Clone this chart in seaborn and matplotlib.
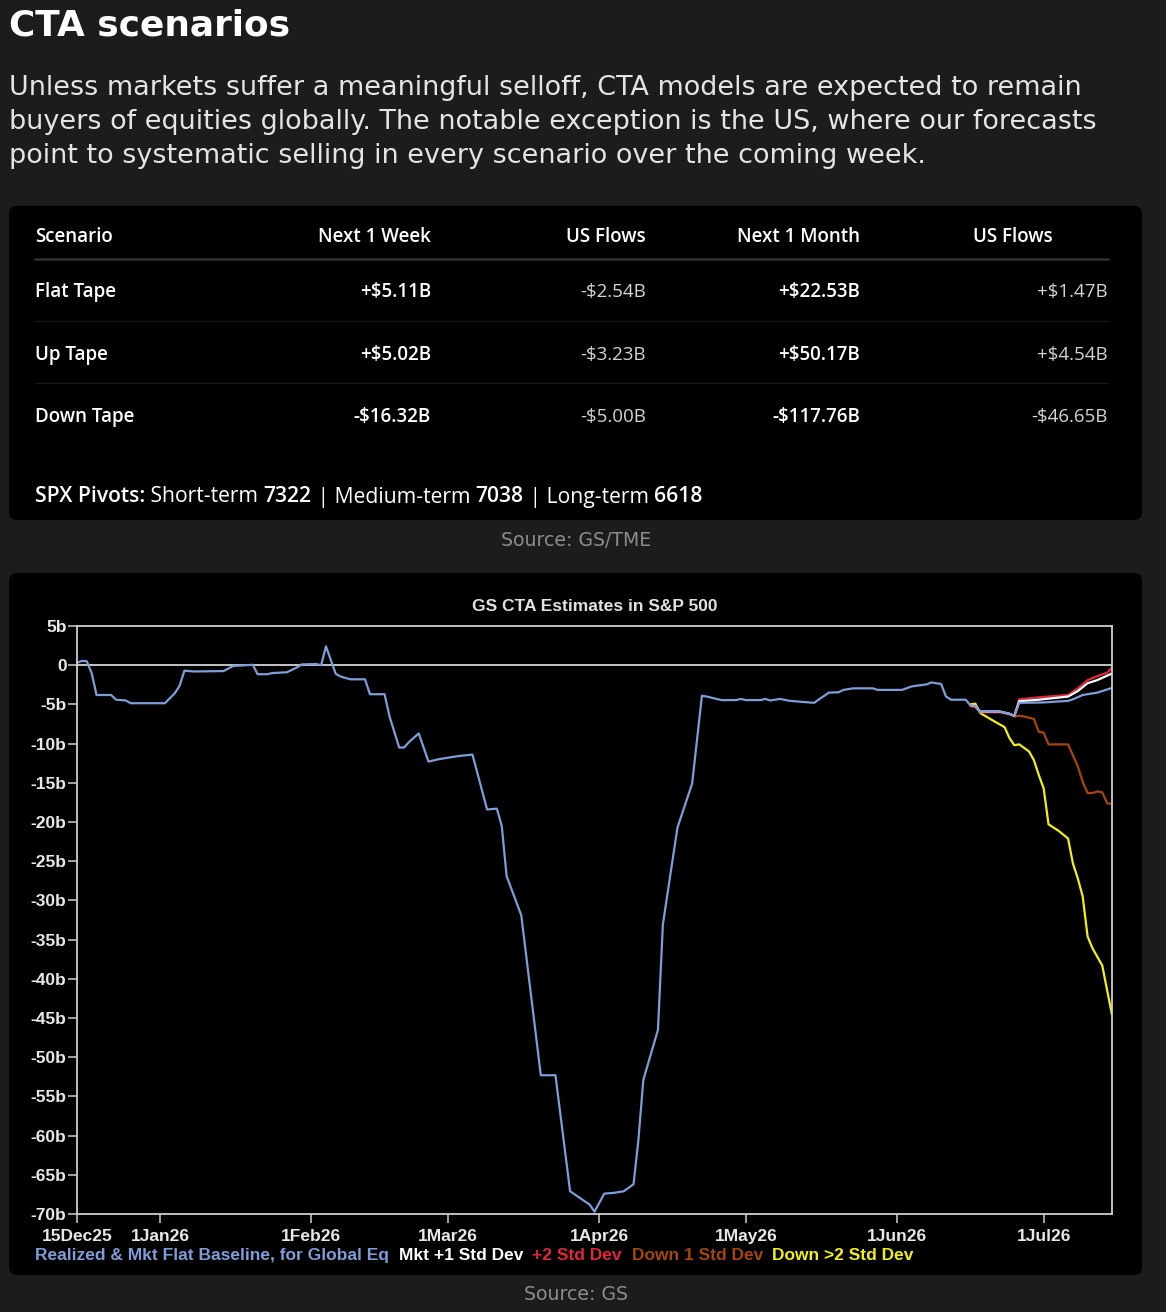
import numpy as np
import pandas as pd
import seaborn as sns
import matplotlib.pyplot as plt
from matplotlib.patches import FancyBboxPatch
from matplotlib.lines import Line2D

# table data
scenarios = ["Flat Tape", "Up Tape", "Down Tape"]
next_week = ["+$5.11B", "+$5.02B", "-$16.32B"]
us_week = ["-$2.54B", "-$3.23B", "-$5.00B"]
next_month = ["+$22.53B", "+$50.17B", "-$117.76B"]
us_month = ["+$1.47B", "+$4.54B", "-$46.65B"]
headers = ["Scenario", "Next 1 Week", "US Flows", "Next 1 Month", "US Flows"]
pivots = [("SPX Pivots:", "bold"), (" Short-term ", "normal"), ("7322", "bold"),
          (" | Medium-term ", "normal"), ("7038", "bold"),
          (" | Long-term ", "normal"), ("6618", "bold")]

# chart data (GS CTA estimates, $bn)
base_dates = ["2025-12-15", "2025-12-16", "2025-12-17", "2025-12-18", "2025-12-19", "2025-12-22",
              "2025-12-23", "2025-12-25", "2025-12-26", "2026-01-02", "2026-01-04", "2026-01-05",
              "2026-01-06", "2026-01-08", "2026-01-14", "2026-01-16", "2026-01-20", "2026-01-21",
              "2026-01-23", "2026-01-24", "2026-01-27", "2026-01-29", "2026-01-30", "2026-02-02",
              "2026-02-03", "2026-02-04", "2026-02-06", "2026-02-07", "2026-02-09", "2026-02-12",
              "2026-02-13", "2026-02-16", "2026-02-17", "2026-02-19", "2026-02-20", "2026-02-21",
              "2026-02-23", "2026-02-25", "2026-02-27", "2026-03-03", "2026-03-06", "2026-03-09",
              "2026-03-11", "2026-03-12", "2026-03-13", "2026-03-16", "2026-03-20", "2026-03-23",
              "2026-03-26", "2026-03-30", "2026-03-31", "2026-04-02", "2026-04-04", "2026-04-06",
              "2026-04-08", "2026-04-09", "2026-04-10", "2026-04-13", "2026-04-14", "2026-04-16",
              "2026-04-17", "2026-04-20", "2026-04-22", "2026-04-23", "2026-04-26", "2026-04-29",
              "2026-04-30", "2026-05-01", "2026-05-04", "2026-05-05", "2026-05-06", "2026-05-08",
              "2026-05-10", "2026-05-13", "2026-05-15", "2026-05-16", "2026-05-18", "2026-05-20",
              "2026-05-21", "2026-05-23", "2026-05-27", "2026-05-28", "2026-06-02", "2026-06-04",
              "2026-06-07", "2026-06-08", "2026-06-10", "2026-06-11", "2026-06-12", "2026-06-15",
              "2026-06-16", "2026-06-17", "2026-06-18", "2026-06-22", "2026-06-24", "2026-06-25",
              "2026-06-26", "2026-07-01", "2026-07-06", "2026-07-07", "2026-07-09", "2026-07-12",
              "2026-07-13", "2026-07-15"]
base_vals = [0.3, 0.55, 0.5, -1.0, -3.8, -3.8,
             -4.4, -4.5, -4.85, -4.85, -3.6, -2.65,
             -0.7, -0.8, -0.75, -0.1, 0.05, -1.15,
             -1.15, -1.0, -0.9, -0.3, 0.1, 0.15,
             0.0, 2.4, -1.1, -1.45, -1.8, -1.8,
             -3.7, -3.7, -6.5, -10.5, -10.5, -9.8,
             -8.7, -12.3, -12.0, -11.6, -11.4, -18.4,
             -18.3, -20.5, -26.9, -31.9, -52.3, -52.3,
             -67.1, -68.8, -69.7, -67.4, -67.3, -67.1,
             -66.2, -60.5, -52.9, -46.5, -33.1, -24.8,
             -20.7, -15.1, -3.9, -4.0, -4.45, -4.45,
             -4.3, -4.45, -4.45, -4.3, -4.5, -4.3,
             -4.55, -4.7, -4.8, -4.35, -3.5, -3.45,
             -3.15, -2.95, -2.95, -3.15, -3.15, -2.7,
             -2.45, -2.2, -2.4, -4.0, -4.4, -4.4,
             -5.1, -5.2, -5.9, -5.9, -6.2, -6.45,
             -4.8, -4.75, -4.55, -4.35, -3.8, -3.5,
             -3.3, -2.9]

up1_dates = ["2026-06-16", "2026-06-17", "2026-06-18", "2026-06-22", "2026-06-24", "2026-06-25",
             "2026-06-26", "2026-06-30", "2026-07-03", "2026-07-06", "2026-07-08", "2026-07-10",
             "2026-07-12", "2026-07-15"]
up1_vals = [-5.1, -5.2, -5.9, -5.9, -6.2, -6.45, -4.6, -4.4, -4.2, -4.0, -3.3, -2.3, -1.9, -1.05]

up2_dates = ["2026-06-16", "2026-06-17", "2026-06-18", "2026-06-22", "2026-06-24", "2026-06-25",
             "2026-06-26", "2026-06-30", "2026-07-03", "2026-07-06", "2026-07-08", "2026-07-10",
             "2026-07-12", "2026-07-14", "2026-07-15"]
up2_vals = [-5.2, -5.35, -6.0, -6.0, -6.25, -6.5, -4.35, -4.1, -3.95, -3.8, -2.95, -1.9,
            -1.4, -0.95, -0.3]

dn1_dates = ["2026-06-24", "2026-06-25", "2026-06-26", "2026-06-27", "2026-06-29", "2026-06-30",
             "2026-07-01", "2026-07-02", "2026-07-06", "2026-07-08", "2026-07-09", "2026-07-10",
             "2026-07-11", "2026-07-12", "2026-07-13", "2026-07-14", "2026-07-15"]
dn1_vals = [-6.2, -6.55, -6.45, -6.55, -6.85, -8.5, -8.6, -10.1, -10.1, -12.9, -14.9, -16.3,
            -16.3, -16.1, -16.2, -17.6, -17.7]

dn2_dates = ["2026-06-16", "2026-06-17", "2026-06-18", "2026-06-21", "2026-06-23", "2026-06-24",
             "2026-06-25", "2026-06-26", "2026-06-28", "2026-06-29", "2026-06-30", "2026-07-01",
             "2026-07-02", "2026-07-04", "2026-07-06", "2026-07-07", "2026-07-08", "2026-07-09",
             "2026-07-10", "2026-07-11", "2026-07-13", "2026-07-15"]
dn2_vals = [-5.0, -4.9, -6.1, -7.2, -7.9, -9.3, -10.2, -10.1, -11.0, -12.1, -14.0, -15.7,
            -20.3, -21.1, -22.1, -25.3, -27.2, -29.5, -34.6, -36.1, -38.3, -44.6]

series_names = ["Realized & Mkt Flat Baseline, for Global Eq", "Mkt +1 Std Dev", "+2 Std Dev",
                "Down 1 Std Dev", "Down >2 Std Dev"]
series_colors = ["#7e9dd9", "#ffffff", "#e3263b", "#a8450c", "#f2ef12"]
xtick_dates = ["2025-12-15", "2026-01-01", "2026-02-01", "2026-03-01", "2026-04-01",
               "2026-05-01", "2026-06-01", "2026-07-01"]
xtick_labels = ["15Dec25", "1Jan26", "1Feb26", "1Mar26", "1Apr26", "1May26", "1Jun26", "1Jul26"]

frames = []
for name, d, v in zip(series_names,
                      [base_dates, up1_dates, up2_dates, dn1_dates, dn2_dates],
                      [base_vals, up1_vals, up2_vals, dn1_vals, dn2_vals]):
    frames.append(pd.DataFrame({"date": pd.to_datetime(d), "flow": v, "series": name}))
df = pd.concat(frames, ignore_index=True)

sns.set_theme(style="ticks")
plt.rcParams["text.parse_math"] = False
plt.rcParams["font.family"] = ["DejaVu Sans"]

W, H = 1166, 1312
BG = "#1c1c1c"
HEAD_FONT = ["DejaVu Sans"]
TABLE_FONT = ["Open Sans", "DejaVu Sans"]
CHART_FONT = ["Liberation Sans Narrow", "Liberation Sans", "DejaVu Sans"]


def fx(x):
    return x / W


def fy(y):
    return 1 - y / H


fig = plt.figure(figsize=(W / 100, H / 100), dpi=100, facecolor=BG)

# header text
fig.text(fx(9), fy(26), "CTA scenarios", fontsize=25.8, weight="bold", color="white",
         va="center", family=HEAD_FONT)
intro = ["Unless markets suffer a meaningful selloff, CTA models are expected to remain",
         "buyers of equities globally. The notable exception is the US, where our forecasts",
         "point to systematic selling in every scenario over the coming week."]
for i, line in enumerate(intro):
    fig.text(fx(9), fy(88 + 34 * i), line, fontsize=19.45, color="#e4e4e4", va="center",
             family=HEAD_FONT)

# panels
for y0, y1 in [(206, 520), (573, 1275)]:
    fig.patches.append(FancyBboxPatch((fx(9), fy(y1)), fx(1142) - fx(9), (y1 - y0) / H,
                                      boxstyle="round,pad=0,rounding_size=0.007",
                                      mutation_aspect=W / H, transform=fig.transFigure,
                                      fc="black", ec="none", zorder=-5))

# table
col_x = [35, 431, 646, 860, 1053]
val_x = [35, 431, 646, 860, 1108]
for i, h in enumerate(headers):
    fig.text(fx(col_x[i]), fy(237), h, fontsize=13.5, weight="semibold", color="white",
             ha="left" if i == 0 else "right", va="center", family=TABLE_FONT)
fig.add_artist(Line2D([fx(35), fx(1108)], [fy(259), fy(259)], color="#2c2c2c", lw=2))
for y in [321, 383]:
    fig.add_artist(Line2D([fx(35), fx(1108)], [fy(y), fy(y)], color="#161616", lw=1))
cols = [scenarios, next_week, us_week, next_month, us_month]
for r in range(len(scenarios)):
    y = 292 + 62.5 * r
    for c, col in enumerate(cols):
        light = c in (2, 4)
        fig.text(fx(val_x[c]), fy(y), col[r], fontsize=13.5,
                 weight="normal" if light else "semibold",
                 color="#d4d4d4" if light else "white",
                 ha="left" if c == 0 else "right", va="center", family=TABLE_FONT)

renderer = fig.canvas.get_renderer()
x = fx(35)
for txt, wt in pivots:
    t = fig.text(x, fy(497), txt, fontsize=15.2, weight="semibold" if wt == "bold" else "normal",
                 color="white", va="center", family=TABLE_FONT)
    x = fig.transFigure.inverted().transform(t.get_window_extent(renderer).get_points())[1][0]

fig.text(fx(576), fy(541), "Source: GS/TME", fontsize=13.6, color="#8c8c8c", ha="center",
         va="center", family=HEAD_FONT)
fig.text(fx(576), fy(1295), "Source: GS", fontsize=13.6, color="#8c8c8c", ha="center",
         va="center", family=HEAD_FONT)

# chart
ax = fig.add_axes([fx(77), fy(1214), fx(1112) - fx(77), (1214 - 626) / H])
ax.set_facecolor("black")
draw_order = series_names[1:][::-1] + series_names[:1]
pal = dict(zip(series_names, series_colors))
sns.lineplot(data=df, x="date", y="flow", hue="series", hue_order=draw_order, palette=pal,
             estimator=None, sort=True, lw=1.6, legend=False, ax=ax)
ax.axhline(0, color="#d4d4d4", lw=1.3, zorder=1)
ax.set_xlim(pd.Timestamp("2025-12-15"), pd.Timestamp("2026-07-15"))
ax.set_ylim(-70, 5)
yt = np.arange(-70, 6, 5)
ax.set_yticks(yt)
ax.set_yticklabels([("0" if v == 0 else f"{v}b") for v in yt])
ax.set_xticks(pd.to_datetime(xtick_dates))
ax.set_xticklabels(xtick_labels)
ax.set_xlabel("")
ax.set_ylabel("")
for s in ax.spines.values():
    s.set_color("#cfcfcf")
    s.set_linewidth(1.3)
ax.tick_params(axis="both", colors="#cfcfcf", length=6.5, width=1.1, pad=1,
               labelcolor="#e8e8e8", labelsize=12.5)
ax.tick_params(axis="x", pad=4)
for lab in ax.get_xticklabels() + ax.get_yticklabels():
    lab.set_family(CHART_FONT)
    lab.set_weight("bold")
ax.set_title("GS CTA Estimates in S&P 500", color="#e2e2e2", fontsize=12.5, weight="bold",
             family=CHART_FONT, pad=11)

handles = [Line2D([], [], color=c) for c in series_colors]
leg = ax.legend(handles, series_names, loc="upper left", ncol=5, frameon=False,
                bbox_to_anchor=(fx(35), fy(1248)), bbox_transform=fig.transFigure,
                handlelength=0, handletextpad=0, columnspacing=0.55, borderpad=0,
                borderaxespad=0, labelcolor=series_colors,
                prop={"family": CHART_FONT, "weight": "bold", "size": 12.5})

fig.savefig("out.png", dpi=100, facecolor=BG)
